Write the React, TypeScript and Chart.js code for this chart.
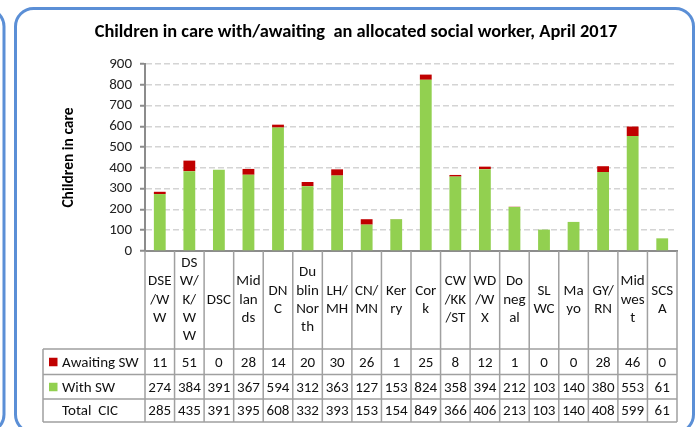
import React, { useEffect, useRef } from "react";
import { Chart, registerables } from "chart.js";

Chart.register(...registerables);

// ---- data ----
const categoryLines: string[][] = [
  ["DSE", "/W", "W"],
  ["DS", "W/", "K/", "W", "W"],
  ["DSC"],
  ["Mid", "lan", "ds"],
  ["DN", "C"],
  ["Du", "blin", "Nor", "th"],
  ["LH/", "MH"],
  ["CN/", "MN"],
  ["Ker", "ry"],
  ["Cor", "k"],
  ["CW", "/KK", "/ST"],
  ["WD", "/W", "X"],
  ["Do", "neg", "al"],
  ["SL", "WC"],
  ["Ma", "yo"],
  ["GY/", "RN"],
  ["Mid", "wes", "t"],
  ["SCS", "A"],
];
const categories = categoryLines.map((l) => l.join(""));
const awaitingSW = [11, 51, 0, 28, 14, 20, 30, 26, 1, 25, 8, 12, 1, 0, 0, 28, 46, 0];
const withSW = [274, 384, 391, 367, 594, 312, 363, 127, 153, 824, 358, 394, 212, 103, 140, 380, 553, 61];
const totalCIC = [285, 435, 391, 395, 608, 332, 393, 153, 154, 849, 366, 406, 213, 103, 140, 408, 599, 61];
const rowLabels = ["Awaiting SW", "With SW", "Total  CIC"];
const yMin = 0;
const yMax = 900;
const yStep = 100;

const title = "Children in care with/awaiting  an allocated social worker, April 2017";
const yTitle = "Children in care";

const RED = "#C00000";
const GREEN = "#92D050";
const BLUE = "#5B8FD6";
const FONT = "Carlito, Lato, sans-serif";

const framePlugin = {
  id: "frame",
  beforeDraw(chart: any) {
    const { ctx } = chart;
    ctx.save();
    ctx.strokeStyle = BLUE;
    ctx.lineWidth = 3;
    ctx.beginPath();
    ctx.roundRect(15.5, 8.5, 678, 424, 18);
    ctx.stroke();
    ctx.beginPath();
    ctx.roundRect(-200, 8.5, 204, 424, 18);
    ctx.stroke();
    // title
    ctx.fillStyle = "#000";
    ctx.font = `bold 18.4px ${FONT}`;
    ctx.textAlign = "center";
    ctx.textBaseline = "middle";
    ctx.fillText(title, 356, 32);
    ctx.restore();
  },
};

const tablePlugin = {
  id: "dataTable",
  afterDraw(chart: any) {
    const { ctx, chartArea } = chart;
    const x = chart.scales.x;
    const n = categories.length;
    const step = x.getPixelForValue(1) - x.getPixelForValue(0);
    const left = x.getPixelForValue(0) - step / 2;
    const right = x.getPixelForValue(n - 1) + step / 2;
    const top = chartArea.bottom;
    const legendLeft = 43;
    const rowsY = [top + 98, top + 123.5, top + 148, top + 171];
    const bottom = rowsY[3];

    ctx.save();
    ctx.strokeStyle = "#A0A0A0";
    ctx.lineWidth = 1.5;
    ctx.beginPath();
    for (let i = 0; i <= n; i++) {
      const px = left + i * step;
      ctx.moveTo(px, top);
      ctx.lineTo(px, bottom);
    }
    ctx.moveTo(legendLeft, rowsY[0]);
    ctx.lineTo(legendLeft, bottom);
    for (const ry of rowsY) {
      ctx.moveTo(legendLeft, ry);
      ctx.lineTo(right, ry);
    }
    ctx.stroke();

    // header labels
    ctx.fillStyle = "#111";
    ctx.font = `15px ${FONT}`;
    ctx.textAlign = "center";
    ctx.textBaseline = "middle";
    const headerMid = (top + rowsY[0]) / 2;
    const lh = 18.3;
    categoryLines.forEach((lines, i) => {
      const cx = x.getPixelForValue(i);
      const y0 = headerMid - ((lines.length - 1) * lh) / 2;
      lines.forEach((t, k) => ctx.fillText(t, cx, y0 + k * lh));
    });

    // data rows
    const rows = [awaitingSW, withSW, totalCIC];
    rows.forEach((vals, r) => {
      const cy = (rowsY[r] + rowsY[r + 1]) / 2;
      vals.forEach((v, i) => {
        ctx.fillText(String(v), x.getPixelForValue(i), cy + 1);
      });
    });

    // legend column
    ctx.textAlign = "left";
    const colors = [RED, GREEN, null];
    rowLabels.forEach((lab, r) => {
      const cy = (rowsY[r] + rowsY[r + 1]) / 2;
      const c = colors[r];
      if (c) {
        ctx.fillStyle = c;
        ctx.fillRect(49, cy - 4, 8.5, 8.5);
      }
      ctx.fillStyle = "#111";
      ctx.fillText(lab, 62, cy + 1);
    });
    ctx.restore();
  },
};

export default function App() {
  const ref = useRef<HTMLCanvasElement | null>(null);
  useEffect(() => {
    if (!ref.current) return;
    const chart = new Chart(ref.current, {
      type: "bar",
      data: {
        labels: categories,
        datasets: [
          {
            label: "With SW",
            data: withSW,
            backgroundColor: GREEN,
            barPercentage: 0.4,
            categoryPercentage: 1,
          },
          {
            label: "Awaiting SW",
            data: awaitingSW,
            backgroundColor: RED,
            barPercentage: 0.4,
            categoryPercentage: 1,
          },
        ],
      },
      options: {
        animation: false,
        responsive: false,
        devicePixelRatio: 1,
        layout: { padding: { top: 64, left: 60, right: 20, bottom: 0 } },
        plugins: {
          legend: { display: false },
          tooltip: { enabled: false },
          title: { display: false },
        },
        scales: {
          x: {
            stacked: true,
            ticks: { display: false },
            grid: { display: false },
            border: { display: true, color: "#8C8C8C", width: 2 },
            afterFit: (s: any) => {
              s.height = 176;
            },
          },
          y: {
            stacked: true,
            min: yMin,
            max: yMax,
            ticks: {
              stepSize: yStep,
              autoSkip: false,
              color: "#222",
              font: { family: FONT, size: 15 },
              padding: 8,
            },
            grid: {
              color: "#D4D4D4",
              lineWidth: 1.5,
              tickLength: 5,
              tickColor: "#8C8C8C",
              tickWidth: 2,
            },
            border: { display: true, color: "#8C8C8C", width: 2, dash: [6, 3] },
            title: {
              display: true,
              text: yTitle,
              color: "#000",
              font: { family: FONT, size: 15.5, weight: "bold" },
              padding: { top: 0, bottom: 0 },
            },
            afterFit: (s: any) => {
              s.width = 85;
            },
          },
        },
      },
      plugins: [framePlugin, tablePlugin],
    });
    return () => chart.destroy();
  }, []);
  return (
    <div style={{ position: "fixed", left: 0, top: 0, width: 697, height: 427, background: "#fff" }}>
      <canvas ref={ref} width={697} height={427} style={{ display: "block" }} />
    </div>
  );
}
